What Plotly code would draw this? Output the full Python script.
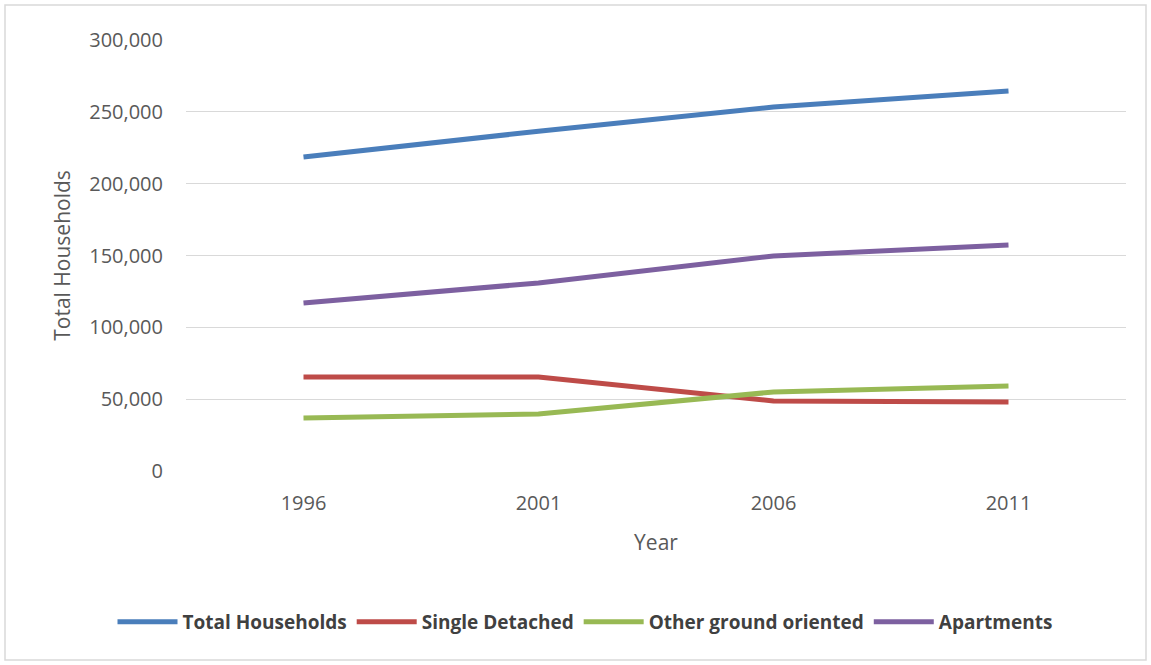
import plotly.graph_objects as go

years = ["1996", "2001", "2006", "2011"]
total_households = [218500, 236500, 253300, 264500]
single_detached = [65400, 65400, 48700, 48000]
other_ground = [36900, 39700, 55000, 59200]
apartments = [116900, 130900, 149700, 157300]

series = [
    ("Total Households", total_households, "#4a7ebb"),
    ("Single Detached", single_detached, "#be4b48"),
    ("Other ground oriented", other_ground, "#98b954"),
    ("Apartments", apartments, "#7d60a0"),
]

fig = go.Figure()
for name, vals, color in series:
    fig.add_trace(go.Scatter(x=years, y=vals, name=name, mode="lines",
                             line=dict(color=color, width=5)))

W, H = 1151, 665
L, R, T, B = 186, 25, 40, 194
pw, ph = W - L - R, H - T - B

fig.update_layout(
    width=W, height=H,
    margin=dict(l=L, r=R, t=T, b=B),
    paper_bgcolor="white", plot_bgcolor="white",
    font=dict(family="Open Sans, Liberation Sans, sans-serif", color="#595959", size=20),
    xaxis=dict(type="category", range=[-0.5, 3.5], showgrid=False, zeroline=False,
               showline=False, ticks="outside", ticklen=14, tickcolor="rgba(0,0,0,0)",
               tickfont=dict(size=20, color="#595959"),
               title=dict(text="Year", font=dict(size=21, color="#595959"), standoff=20)),
    yaxis=dict(range=[0, 300000], dtick=50000, tickformat=",", showgrid=True,
               gridcolor="#d9d9d9", gridwidth=1.3, zeroline=False, showline=False,
               ticks="outside", ticklen=18, tickcolor="rgba(0,0,0,0)",
               tickfont=dict(size=20, color="#595959"),
               title=dict(text="Total Households", font=dict(size=21, color="#595959"), standoff=12)),
    legend=dict(orientation="h", x=(585 - L) / pw, xanchor="center", y=1 - (622 - T) / ph,
                yanchor="middle", itemwidth=60,
                font=dict(size=19, color="#404040", family="Open Sans, sans-serif", weight="bold"),
                tracegroupgap=0),
    showlegend=True,
)

fig.add_shape(type="rect", xref="paper", yref="paper",
              x0=(5 - L) / pw, x1=(1146 - L) / pw,
              y0=1 - (660 - T) / ph, y1=1 - (5 - T) / ph,
              line=dict(color="#d9d9d9", width=1.5), fillcolor="rgba(0,0,0,0)", layer="below")

fig.write_html("out.html")
